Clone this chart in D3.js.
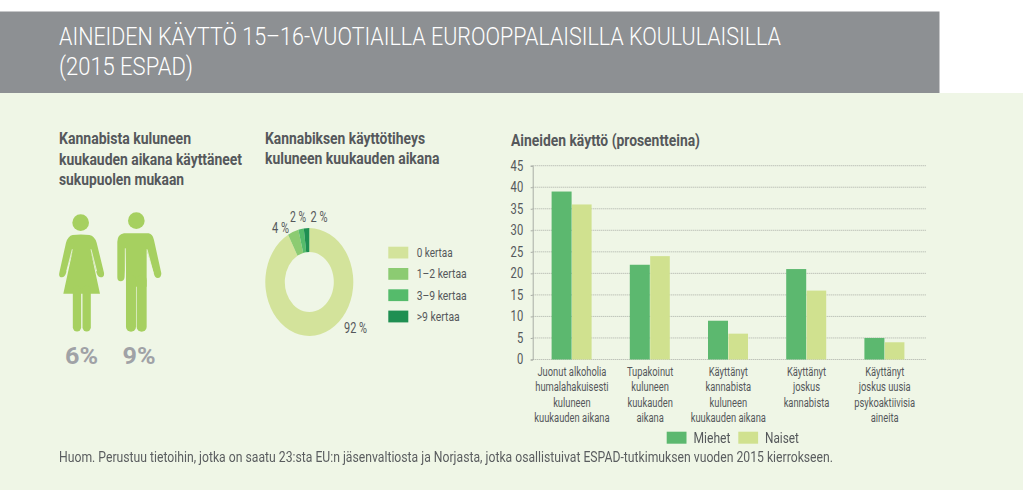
<!DOCTYPE html>
<html><head><meta charset="utf-8">
<script src="https://cdn.jsdelivr.net/npm/d3@7"></script>
<style>html,body{margin:0;padding:0;background:#fff}svg{display:block;filter:blur(0.35px)}text{font-family:"Roboto","Liberation Sans",sans-serif}</style>
</head><body><div id="c"></div>
<script>
const titleLines = ["AINEIDEN KÄYTTÖ 15–16-VUOTIAILLA EUROOPPALAISILLA KOULULAISILLA","(2015 ESPAD)"];
const genderTitle = ["Kannabista kuluneen","kuukauden aikana käyttäneet","sukupuolen mukaan"];
const freqTitle = ["Kannabiksen käyttötiheys","kuluneen kuukauden aikana"];
const barsTitle = "Aineiden käyttö (prosentteina)";
const genderPct = ["6%","9%"];
const freqLabels = ["0 kertaa","1–2 kertaa","3–9 kertaa",">9 kertaa"];
const freqValues = [92,4,2,2];
const freqColors = ["#d3e39b","#8ccb72","#55bb6b","#1f8f52"];
const categories = [
 ["Juonut alkoholia","humalahakuisesti","kuluneen","kuukauden aikana"],
 ["Tupakoinut","kuluneen","kuukauden","aikana"],
 ["Käyttänyt","kannabista","kuluneen","kuukauden aikana"],
 ["Käyttänyt","joskus","kannabista"],
 ["Käyttänyt","joskus uusia","psykoaktiivisia","aineita"]];
const seriesNames = ["Miehet","Naiset"];
const miehet = [39,22,9,21,5];
const naiset = [36,24,6,16,4];
const yTicks = [0,5,10,15,20,25,30,35,40,45];
const footnote = "Huom. Perustuu tietoihin, jotka on saatu 23:sta EU:n jäsenvaltiosta ja Norjasta, jotka osallistuivat ESPAD-tutkimuksen vuoden 2015 kierrokseen.";

const BG="#eff6e6", TXT="#55585b", C_M="#5cb86f", C_N="#d0e18f", FIG="#a6d060";
const svg=d3.select("#c").append("svg").attr("width",1023).attr("height",504);
svg.append("rect").attr("x",0).attr("y",93).attr("width",1023).attr("height",397).attr("fill",BG);
svg.append("rect").attr("x",0).attr("y",11.5).attr("width",939.5).attr("height",81.5).attr("fill","#8d9093");

function T(s,x,y,size,opt={}){
  const t=svg.append("text").attr("font-size",size)
    .attr("fill",opt.fill||TXT).attr("text-anchor",opt.anchor||"start")
    .attr("font-weight",opt.weight||"normal").text(s);
  if(opt.squeeze){ t.attr("transform",`translate(${x},${y}) scale(${opt.squeeze},1)`); return t; }
  t.attr("x",x).attr("y",y);
  if(opt.w) t.attr("textLength",opt.w).attr("lengthAdjust","spacingAndGlyphs");
  return t;
}
T(titleLines[0],59,45,26.5,{fill:"#fff",w:722,weight:300});
T(titleLines[1],59,74.5,26.5,{fill:"#fff",w:134,weight:300});

const gw=[132,183,125];
genderTitle.forEach((s,i)=>T(s,59,[144,164.5,185][i],16,{weight:"bold",w:gw[i]}));
const fw=[160,174.5];
freqTitle.forEach((s,i)=>T(s,265,[143.5,164][i],16,{weight:"bold",w:fw[i]}));
T(barsTitle,511,146,16,{weight:"bold",w:189});

// pictograms, drawn in a local icon frame
const icon=svg.append("g").attr("transform","translate(0,100) scale(0.3333)");
const woman=icon.append("g").attr("fill",FIG).attr("stroke",FIG);
woman.append("circle").attr("cx",242).attr("cy",368).attr("r",25).attr("stroke","none");
woman.append("path").attr("stroke","none").attr("d","M218 405 Q242 402 268 405 Q284 408 290 428 L312 518 Q314 532 302 532 Q294 532 290 520 L272 452 L300 581 L190 581 L218 452 L198 520 Q194 532 186 532 Q175 532 178 518 L198 428 Q204 408 218 405Z");
woman.append("line").attr("x1",231).attr("y1",570).attr("x2",231).attr("y2",682).attr("stroke-width",25).attr("stroke-linecap","round");
woman.append("line").attr("x1",260).attr("y1",570).attr("x2",260).attr("y2",682).attr("stroke-width",25).attr("stroke-linecap","round");
icon.append("path").attr("fill","none").attr("stroke",BG).attr("stroke-width",2.5).attr("d","M217 448 L200 514 M273 448 L290 514");
const man=icon.append("g").attr("fill",FIG).attr("stroke",FIG);
man.append("circle").attr("cx",409).attr("cy",362).attr("r",25).attr("stroke","none");
man.append("path").attr("stroke","none").attr("d","M372 400 L446 400 Q458 402 462 420 L484 520 Q484 534 473 534 Q465 534 462 522 L440 450 L440 560 L378 560 L378 450 L374 532 Q372 544 362 544 Q352 544 352 532 L352 425 Q352 404 372 400Z");
man.append("line").attr("x1",393).attr("y1",540).attr("x2",393).attr("y2",680).attr("stroke-width",30).attr("stroke-linecap","round");
man.append("line").attr("x1",425).attr("y1",540).attr("x2",425).attr("y2",680).attr("stroke-width",30).attr("stroke-linecap","round");
icon.append("path").attr("fill","none").attr("stroke",BG).attr("stroke-width",2.5).attr("d","M376 445 L376 535 M441 448 L460 520");
genderPct.forEach((s,i)=>T(s,[81.5,139][i],364,24,{weight:"bold",fill:"#a0a2a6",anchor:"middle",w:33}));

// donut
const pie=d3.pie().sort(null)(freqValues);
const arc=d3.arc().innerRadius(24.5).outerRadius(44);
svg.append("g").attr("transform","translate(309.3,282) scale(1,1.225)")
  .selectAll("path").data(pie).join("path").attr("d",arc).attr("fill",(d,i)=>freqColors[i]);
const pctLab=[[344,333,23],[272,232.7,17],[290,221.7,16],[310.5,222,17]];
freqValues.forEach((v,i)=>T(v+" %",pctLab[i][0],pctLab[i][1],14,{w:pctLab[i][2]}));
freqLabels.forEach((s,i)=>{
  const y=246.7+i*21.3;
  svg.append("rect").attr("x",388.3).attr("y",y).attr("width",20).attr("height",11.8).attr("fill",freqColors[i]);
  T(s,416.7,y+10.3,13.5,{w:[36,50,50,43][i]});
});

// bars
const y=d3.scaleLinear().domain([0,45]).range([359.5,165.7]);
const x0=d3.scaleBand().domain(d3.range(categories.length)).range([533,924]);
const x1=d3.scaleBand().domain(seriesNames).range([18.6,58.6]);
svg.append("g").selectAll("line").data(yTicks).join("line")
  .attr("x1",532.7).attr("x2",926.7).attr("y1",d=>y(d)).attr("y2",d=>y(d))
  .attr("stroke","#a9ada6").attr("stroke-width",1).attr("stroke-dasharray","1 1");
const axis=svg.append("g").attr("transform","translate(532.7,0)")
  .call(d3.axisLeft(y).tickValues(yTicks).tickSize(2).tickFormat(d3.format("d")));
axis.attr("font-family",null).attr("font-size",null);
axis.select(".domain").attr("stroke","#a9ada6").attr("stroke-width",1);
axis.selectAll(".tick line").attr("stroke","#a9ada6");
axis.selectAll(".tick text").attr("fill",TXT).attr("font-size",14).attr("x",-9.5).each(function(){
  const n=this.getComputedTextLength()*0.8; d3.select(this).attr("textLength",n).attr("lengthAdjust","spacingAndGlyphs");
});
[miehet,naiset].forEach((vals,si)=>{
  svg.append("g").attr("fill",si?C_N:C_M).selectAll("rect").data(vals).join("rect")
    .attr("x",(d,i)=>x0(i)+x1(seriesNames[si])+(si?0.4:0))
    .attr("width",x1.bandwidth()-(si?0.4:0))
    .attr("y",d=>y(d)).attr("height",d=>y(0)-y(d));
});
categories.forEach((lines,i)=>{
  lines.forEach((s,j)=>T(s,x0(i)+x0.bandwidth()/2-0.2,375.5+j*15.5,13,{anchor:"middle",squeeze:0.72}));
});
svg.append("rect").attr("x",666.7).attr("y",431.7).attr("width",19.8).attr("height",12).attr("fill",C_M);
T(seriesNames[0],693.5,442.5,14.5,{w:37});
svg.append("rect").attr("x",738.3).attr("y",431.7).attr("width",19.8).attr("height",12).attr("fill",C_N);
T(seriesNames[1],765,442.5,14.5,{w:34});
T(footnote,59,462,14,{w:774,fill:"#5a5d5f"});
</script></body></html>
